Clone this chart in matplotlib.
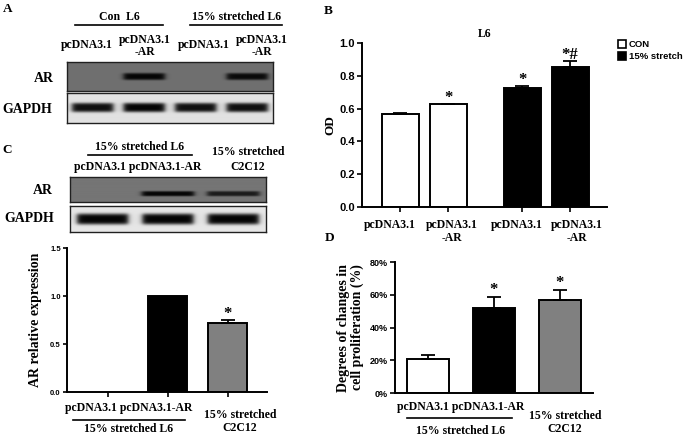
import numpy as np
import matplotlib
matplotlib.use("Agg")
import matplotlib.pyplot as plt
from matplotlib.patches import Patch

W, H = 685, 436
SERIF = "Liberation Serif"
SANS = "Liberation Sans"

# ---- data ----
b_labels = ["pcDNA3.1", "pcDNA3.1\n-AR", "pcDNA3.1", "pcDNA3.1\n-AR"]
b_od = [0.57, 0.625, 0.725, 0.855]
b_err = [0.006, 0.006, 0.015, 0.035]
b_marks = ["", "*", "*", "*#"]
b_colors = ["white", "white", "black", "black"]
b_legend = ["CON", "15% stretch"]

c_expr = [0.0, 1.0, 0.72]
c_err = [0.0, 0.0, 0.03]
c_marks = ["", "", "*"]
c_colors = ["white", "black", "#808080"]

d_prolif = [21, 52, 57]
d_err = [2, 6.5, 6]
d_marks = ["", "*", "*"]
d_colors = ["white", "black", "#808080"]

# blot band strength per lane (0 = no band)
a_ar_bands = [0.0, 1.0, 0.0, 0.95]
a_gapdh_bands = [0.95, 1.0, 0.95, 0.95]
c_ar_bands = [0.0, 1.0, 0.8]
c_gapdh_bands = [1.0, 1.0, 1.0]


def rect(x0, y0, x1, y1):
    """pixel box (top-left origin) -> figure fraction rect"""
    return [x0 / W, 1 - y1 / H, (x1 - x0) / W, (y1 - y0) / H]


def blot(fig, box, bands, bg, thick, yfrac=0.5, lane_frac=0.8):
    x0, y0, x1, y1 = box
    w, h = int(x1 - x0) * 2, int(y1 - y0) * 2
    xx = np.arange(w) + 0.5
    yy = np.arange(h) + 0.5
    img = np.full((h, w), bg)
    lane_w = w / len(bands)
    for i, s in enumerate(bands):
        if s <= 0:
            continue
        cx = (i + 0.5) * lane_w
        half = lane_frac * lane_w / 2
        px = 1 / (1 + np.exp((np.abs(xx - cx) - half) / 3.0))
        py = np.exp(-((yy - yfrac * h) / thick) ** 4)
        img = img - (bg - 0.02) * s * np.outer(py, px)
    ax = fig.add_axes(rect(*box))
    ax.imshow(img, cmap="gray", vmin=0, vmax=1, aspect="auto",
              interpolation="bilinear")
    ax.set_xticks([])
    ax.set_yticks([])
    for sp in ax.spines.values():
        sp.set_linewidth(1.0)
        sp.set_color("#202020")
    return ax


def style_axis(ax):
    for s in ["top", "right"]:
        ax.spines[s].set_visible(False)
    for s in ["left", "bottom"]:
        ax.spines[s].set_linewidth(1.4)
    ax.tick_params(direction="out", width=1.2, length=3.5)


def bars(ax, pos, vals, errs, colors, width, marks, off):
    ax.bar(pos, vals, width=width, color=colors, edgecolor="black",
           linewidth=1.4, zorder=2)
    for p, v, e, m in zip(pos, vals, errs, marks):
        if e > 0:
            ax.errorbar(p, v, yerr=[[0], [e]], fmt="none", ecolor="black",
                        elinewidth=1.3, capsize=5, capthick=1.3, zorder=3)
        if m:
            ax.annotate(m, xy=(p, v + e), xytext=(0, off),
                        textcoords="offset points", ha="center",
                        va="center", fontsize=12, fontweight="bold",
                        family=SERIF)


fig = plt.figure(figsize=(W / 100, H / 100), dpi=100)

# ---- panel B ----
axb = fig.add_axes(rect(362, 43, 607, 207))
b_pos = [0, 1, 2.55, 3.55]
bars(axb, b_pos, b_od, b_err, b_colors, 0.77, b_marks, 4)
axb.set_xlim(-0.8, 4.32)
axb.set_ylim(0, 1.0)
axb.set_yticks(np.arange(0, 1.01, 0.2))
axb.set_yticklabels([f"{t:.1f}" for t in np.arange(0, 1.01, 0.2)],
                    family=SANS, fontweight="bold", fontsize=8)
axb.set_xticks(b_pos)
axb.set_xticklabels([])
style_axis(axb)
axb.tick_params(axis="y", pad=1.5)
axb.set_title("L6", family=SERIF, fontweight="bold", fontsize=8.5, pad=4)
axb.set_ylabel("OD", family=SERIF, fontweight="bold", fontsize=9.5,
               labelpad=2)
fig.legend(handles=[Patch(facecolor="white", edgecolor="black", lw=1.2,
                          label=b_legend[0]),
                    Patch(facecolor="black", edgecolor="black", lw=1.2,
                          label=b_legend[1])],
           loc="upper left", bbox_to_anchor=(613 / W, 1 - 35 / H),
           frameon=False, handlelength=0.9, handleheight=0.9,
           handletextpad=0.3, labelspacing=0.35, borderpad=0,
           prop={"family": SANS, "weight": "bold", "size": 6.8})

# ---- panel C (bar chart) ----
axc = fig.add_axes(rect(67, 248, 267, 392))
c_pos = [0, 1, 2]
bars(axc, c_pos[1:], c_expr[1:], c_err[1:], c_colors[1:], 0.65,
     c_marks[1:], 4)
axc.set_xlim(-0.683, 2.65)
axc.set_ylim(0, 1.5)
axc.set_yticks([0, 0.5, 1.0, 1.5])
axc.set_yticklabels(["0.0", "0.5", "1.0", "1.5"], family=SANS,
                    fontweight="bold", fontsize=5.5)
axc.set_xticks(c_pos)
axc.set_xticklabels([])
style_axis(axc)
axc.tick_params(axis="y", length=3, pad=1.5)
axc.set_ylabel("AR relative expression", family=SERIF, fontweight="bold",
               fontsize=10, labelpad=6)

# ---- panel D ----
axd = fig.add_axes(rect(395, 262, 593, 393))
d_pos = [0, 1, 2]
bars(axd, d_pos, d_prolif, d_err, d_colors, 0.65, d_marks, 5)
axd.set_xlim(-0.5, 2.5)
axd.set_ylim(0, 80)
axd.set_yticks(range(0, 81, 20))
axd.set_yticklabels([f"{t}%" for t in range(0, 81, 20)], family=SANS,
                    fontweight="bold", fontsize=6.5)
axd.set_xticks([])
style_axis(axd)
axd.tick_params(axis="y", pad=1.5)
axd.set_ylabel("Degrees of changes in\ncell proliferation (%)",
               family=SERIF, fontweight="bold", fontsize=10, labelpad=4,
               linespacing=1.05)

# ---- blots ----
blot(fig, (67, 62, 273, 91), a_ar_bands, 0.44, 7)
blot(fig, (67, 93, 273, 123), a_gapdh_bands, 0.88, 9)
blot(fig, (70, 177, 266, 202), c_ar_bands, 0.46, 5, yfrac=0.68)
blot(fig, (70, 206, 266, 232), c_gapdh_bands, 0.9, 11, lane_frac=0.78)

# ---- overlay for labels and lines ----
ov = fig.add_axes([0, 0, 1, 1], zorder=10)
ov.set_xlim(0, W)
ov.set_ylim(H, 0)
ov.axis("off")
ov.patch.set_visible(False)


def txt(x, y, s, size=8.5, family=SERIF, **kw):
    ov.text(x, y, s, ha="center", va="center", fontsize=size,
            fontweight="bold", family=family, linespacing=1.1, **kw)


def hline(x0, x1, y):
    ov.plot([x0, x1], [y, y], color="black", lw=1.2)


for lab, x, y in [("A", 8, 9), ("B", 328, 11), ("C", 7, 150),
                  ("D", 330, 238)]:
    txt(x, y, lab, size=9.5)

# panel A
txt(119, 17, "Con  L6")
hline(75, 163, 25)
txt(237, 17, "15% stretched L6")
hline(190, 282, 25)
txt(87, 45, "pcDNA3.1")
txt(145, 46, "pcDNA3.1\n-AR")
txt(204, 45, "pcDNA3.1")
txt(262, 46, "pcDNA3.1\n-AR")
txt(44, 78, "AR", size=10)
txt(27, 109, "GAPDH", size=10)

# panel B category labels
for lab, x in zip(b_labels, [390, 452, 517, 577]):
    txt(x, 225 if "\n" not in lab else 231.5, lab)

# panel C blot
txt(140, 147, "15% stretched L6")
hline(88, 192, 155)
txt(248, 152, "15% stretched")
txt(138, 167, "pcDNA3.1 pcDNA3.1-AR")
txt(248, 167, "C2C12")
txt(43, 190, "AR", size=10)
txt(29, 218, "GAPDH", size=10)

# panel C bottom
txt(129, 408, "pcDNA3.1 pcDNA3.1-AR")
hline(73, 185, 420)
txt(129, 429, "15% stretched L6")
txt(240, 415, "15% stretched")
txt(240, 428, "C2C12")

# panel D bottom
txt(461, 407, "pcDNA3.1 pcDNA3.1-AR")
hline(407, 512, 418)
txt(461, 431, "15% stretched L6")
txt(565, 416, "15% stretched")
txt(565, 429, "C2C12")

fig.savefig("out.png", dpi=100)
